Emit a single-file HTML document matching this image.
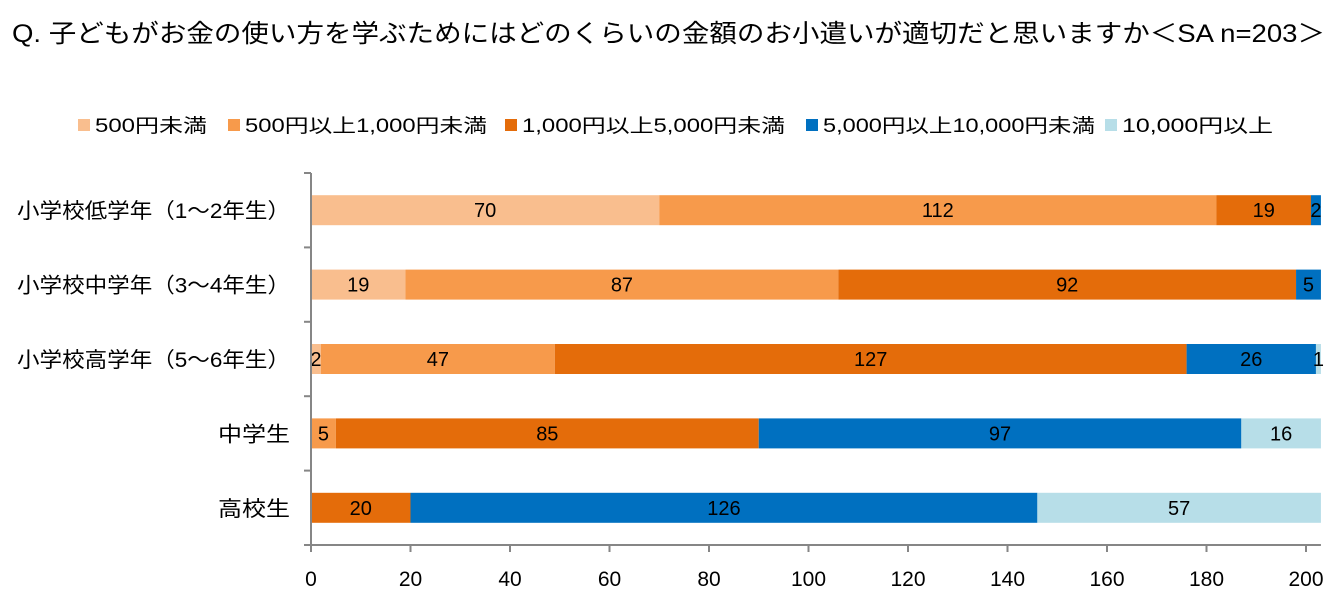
<!DOCTYPE html>
<html><head><meta charset="utf-8"><style>
body{margin:0;background:#fff;}
svg text{font-family:"Liberation Sans","Noto Sans CJK JP",sans-serif;fill:#000;}
</style></head><body>
<svg id="c" width="1340" height="598" xmlns="http://www.w3.org/2000/svg">
<text x="12" y="42" font-size="25" textLength="1313" lengthAdjust="spacingAndGlyphs">Q. 子どもがお金の使い方を学ぶためにはどのくらいの金額のお小遣いが適切だと思いますか＜SA n=203＞</text>
<g id="legend"></g>
<g id="plot"></g>
</svg>
<script>
const categories=["小学校低学年（1～2年生）","小学校中学年（3～4年生）","小学校高学年（5～6年生）","中学生","高校生"];
const seriesNames=["500円未満","500円以上1,000円未満","1,000円以上5,000円未満","5,000円以上10,000円未満","10,000円以上"];
const s1=[70,19,2,0,0];
const s2=[112,87,47,5,0];
const s3=[19,92,127,85,20];
const s4=[2,5,26,97,126];
const s5=[0,0,1,16,57];
const xTicks=[0,20,40,60,80,100,120,140,160,180,200];
const colors=["#F9BE8E","#F79A4B","#E46C0A","#0070C0","#B7DEE8"];
const series=[s1,s2,s3,s4,s5];
const NS="http://www.w3.org/2000/svg";
const x0=311,pxPer=4.975,plotTop=173,plotBottom=545,band=(plotBottom-plotTop)/categories.length,bh=30;
const X=v=>x0+v*pxPer;
const Y=i=>plotTop+band*i+band/2;
function mk(t,a,p){const e=document.createElementNS(NS,t);for(const k in a)e.setAttribute(k,a[k]);p.appendChild(e);return e;}
const plot=document.getElementById('plot'),leg=document.getElementById('legend');
const legX=[78,228,505,806,1105];
const legW=[112,242,263,272,151];
seriesNames.forEach((n,i)=>{
 const r=mk('rect',{x:legX[i],y:119,width:12,height:12,fill:colors[i]},leg);
 
 
 const t=mk('text',{x:legX[i]+17,y:132,'font-size':19,textLength:legW[i],lengthAdjust:'spacingAndGlyphs'},leg);t.textContent=n;
 
 
});
const catW=[273,273,273,72,72];
categories.forEach((c,i)=>{
 let acc=0;
 series.forEach((s,k)=>{
  const v=s[i];if(!v)return;
  const r=mk('rect',{x:X(acc),y:Y(i)-bh/2,width:v*pxPer,height:bh,fill:colors[k]},plot);
  
  
  const t=mk('text',{x:X(acc+v/2),y:Y(i)+7,'font-size':20,'text-anchor':'middle'},plot);t.textContent=v;
  
  
  acc+=v;
 });
 const t=mk('text',{x:290-catW[i],y:Y(i)+8,'font-size':21,textLength:catW[i],lengthAdjust:'spacingAndGlyphs'},plot);t.textContent=c;
 
 
});
const ax=mk('line',{x1:x0,y1:plotTop,x2:x0,y2:plotBottom,stroke:'#868686','stroke-width':2},plot);


for(let i=0;i<=categories.length;i++){mk('line',{x1:x0-7,y1:plotTop+band*i,x2:x0,y2:plotTop+band*i,stroke:'#868686','stroke-width':2},plot);}
const bx=mk('line',{x1:x0,y1:plotBottom,x2:X(203),y2:plotBottom,stroke:'#868686','stroke-width':2},plot);


xTicks.forEach(v=>{
 mk('line',{x1:X(v),y1:plotBottom,x2:X(v),y2:plotBottom+7,stroke:'#868686','stroke-width':2},plot);
 const t=mk('text',{x:X(v),y:586,'font-size':21,'text-anchor':'middle'},plot);t.textContent=v;
 
 
});
</script>
</body></html>
